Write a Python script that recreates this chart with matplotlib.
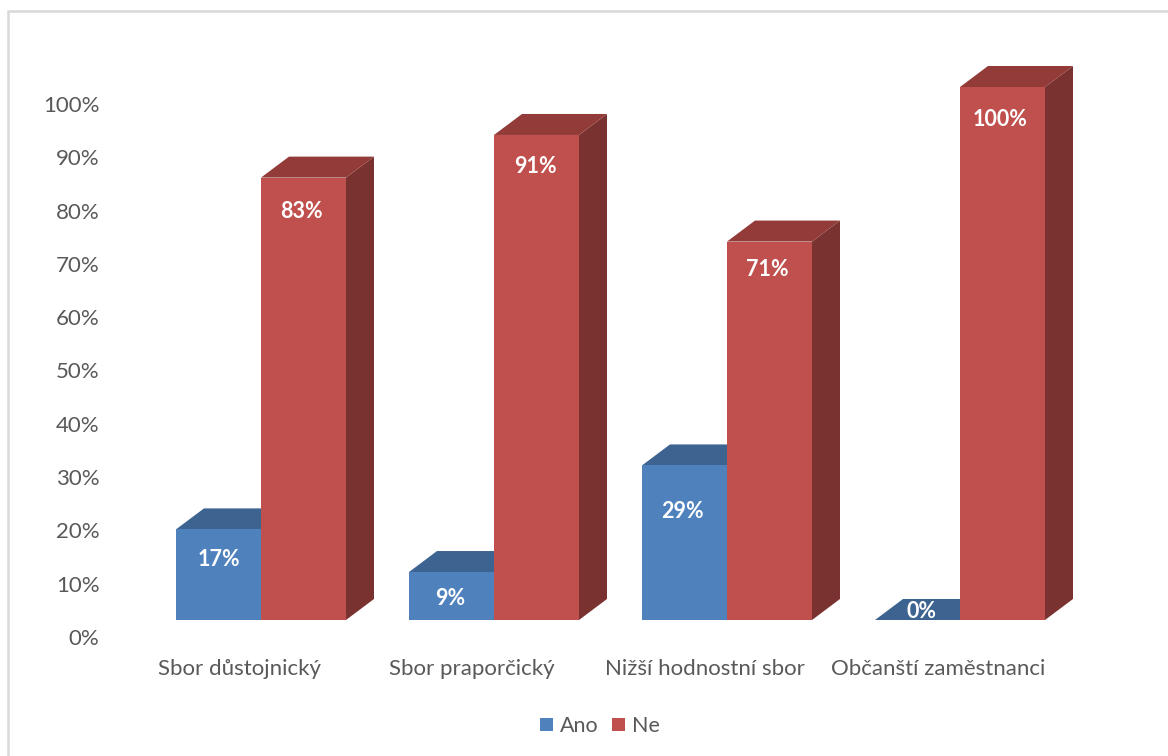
import matplotlib
matplotlib.use("Agg")
import matplotlib.pyplot as plt
from matplotlib.patches import Polygon, Rectangle
from matplotlib.transforms import ScaledTranslation

# values
categories = ["Sbor důstojnický", "Sbor praporčický", "Nižší hodnostní sbor", "Občanští zaměstnanci"]
ano = [17, 9, 29, 0]
ne = [83, 91, 71, 100]
ticks = list(range(0, 101, 10))

W, H, DPI = 1168, 756, 100
FONT = "Lato"
GREY = "#595959"

# pixel layout of the front plane
x_zero, x_step = 261, 233      # first category centre, distance between categories
y_zero, y_full = 620, 87       # pixel rows of 0 % and 100 %
depth_x, depth_y = 28, 21      # 3d depth in pixels
bar_w = 85 / x_step

left, right, top = 110, 1150, 40

fig = plt.figure(figsize=(W / DPI, H / DPI), dpi=DPI)
ax = fig.add_axes([left / W, 1 - y_zero / H, (right - left) / W, (y_zero - top) / H])
ax.set_xlim((left - x_zero) / x_step, (right - x_zero) / x_step)
px_per_pct = (y_zero - y_full) / 100
ax.set_ylim(0, (y_zero - top) / px_per_pct)
ax.patch.set_visible(False)
for s in ax.spines.values():
    s.set_visible(False)

dx = depth_x / x_step
dy = depth_y / px_per_pct


def draw_box(x, w, v, front, roof, side):
    """One 3d column: side and roof as polygons, front through ax.bar."""
    ax.add_patch(Polygon([(x + w, 0), (x + w + dx, dy), (x + w + dx, v + dy), (x + w, v)],
                         closed=True, fc=side, ec="none", clip_on=False, zorder=2))
    ax.add_patch(Polygon([(x, v), (x + dx, v + dy), (x + w + dx, v + dy), (x + w, v)],
                         closed=True, fc=roof, ec="none", clip_on=False, zorder=2))
    return ax.bar(x, v, w, align="edge", color=front, clip_on=False, zorder=3)


for i in range(len(categories)):
    draw_box(i - bar_w, bar_w, ano[i], "#4F81BD", "#3D6390", "#2F4D71")
    draw_box(i, bar_w, ne[i], "#C0504D", "#923B39", "#7A3230")

# data labels, pixels below the top of the front face
ano_drop = [30, 26, 46, -9]
ne_drop = [34, 32, 28, 33]
ano_nudge = [0, -1, -2, 4]
ne_nudge = [-2, -1, -2, -2]
for i in range(len(categories)):
    ax.text(i - bar_w / 2 + ano_nudge[i] / x_step, ano[i] - ano_drop[i] / px_per_pct, f"{ano[i]}%",
            color="white", family=FONT, fontsize=15.5, fontweight="bold", ha="center", va="center", zorder=5)
    ax.text(i + bar_w / 2 + ne_nudge[i] / x_step, ne[i] - ne_drop[i] / px_per_pct, f"{ne[i]}%",
            color="white", family=FONT, fontsize=15.5, fontweight="bold", ha="center", va="center", zorder=5)

# axes: labels sit lower and further left than the front plane
ax.set_yticks(ticks)
ax.set_yticklabels([f"{t}%" for t in ticks], family=FONT, fontsize=16, color=GREY)
ax.set_xticks(range(len(categories)))
ax.set_xticklabels(categories, family=FONT, fontsize=16, color=GREY)
ax.tick_params(axis="both", length=0)
ax.tick_params(axis="y", pad=7.5)
ax.tick_params(axis="x", pad=28)
shift_y = ScaledTranslation(0, -17 / DPI, fig.dpi_scale_trans)
shift_x = ScaledTranslation(-22 / DPI, 0, fig.dpi_scale_trans)
for t in ax.yaxis.get_major_ticks():
    t.label1.set_transform(t.label1.get_transform() + shift_y)
for t in ax.xaxis.get_major_ticks():
    t.label1.set_transform(t.label1.get_transform() + shift_x)

# legend
handles = [Rectangle((0, 0), 1, 1, fc="#4F81BD"), Rectangle((0, 0), 1, 1, fc="#C0504D")]
fig.legend(handles, ["Ano", "Ne"], loc="center", bbox_to_anchor=(600 / W, 1 - 726 / H),
           ncol=2, frameon=False, handlelength=0.6, handleheight=0.6, handletextpad=0.3,
           columnspacing=0.65, borderpad=0, prop={"family": FONT, "size": 15.5}, labelcolor=GREY)

# chart frame running off the right and bottom of the image
fig.add_artist(Rectangle((8 / W, -0.05), 1.1, 1 - 11 / H + 0.05, transform=fig.transFigure,
                         fc="none", ec="#D9D9D9", lw=1.8))

fig.savefig("out.png", dpi=DPI)
